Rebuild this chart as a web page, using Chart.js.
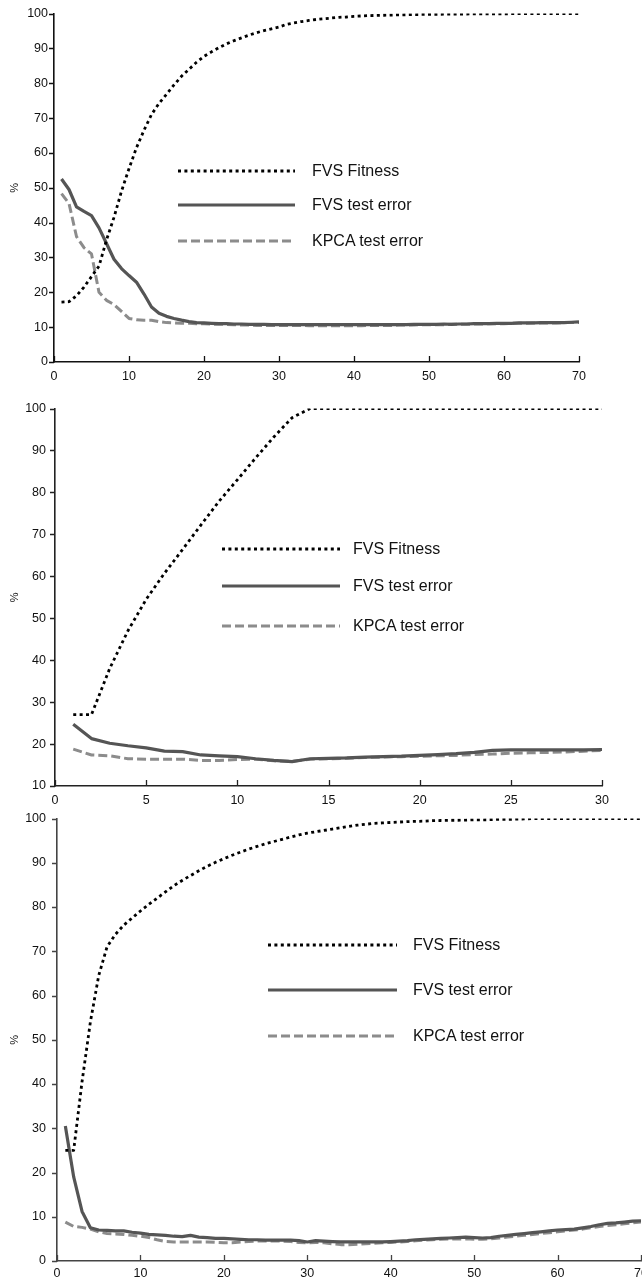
<!DOCTYPE html>
<html>
<head>
<meta charset="utf-8">
<script src="https://cdn.jsdelivr.net/npm/chart.js@4.4.0/dist/chart.umd.min.js"></script>
<style>
  html, body { margin: 0; padding: 0; background: #fff; }
  body { width: 642px; height: 1283px; position: relative; overflow: hidden; font-family: "Liberation Sans", Arial, sans-serif; }
  canvas { position: absolute; left: 0; }
  .legend-row { position: absolute; height: 20px; display: flex; align-items: center; white-space: nowrap; }
  .legend-row svg { display: block; }
  .legend-row span { font-size: 16px; color: #111; }
</style>
</head>
<body>
<canvas id="chartTop" width="642" height="392"></canvas>
<canvas id="chartMid" width="642" height="420"></canvas>
<canvas id="chartBottom" width="660" height="483"></canvas>
<script>
// panel 1 (70 generations)
const gen1 = [1,2,3,4,5,6,7,8,9,10,11,12,13,14,15,16,17,18,19,20,21,22,23,24,25,26,27,28,29,30,31,32,33,34,35,36,37,38,39,40,41,42,43,44,45,46,47,48,49,50,51,52,53,54,55,56,57,58,59,60,61,62,63,64,65,66,67,68,69,70];
const fitness1 = [17.2,17.3,19.0,21.5,24.5,27.5,35.0,41.5,49.0,55.5,61.5,66.5,71.0,74.2,76.8,79.5,82.0,84.0,86.0,87.7,89.0,90.2,91.3,92.2,93.0,93.8,94.5,95.1,95.6,96.1,96.9,97.3,97.7,98.0,98.3,98.5,98.7,98.9,99.0,99.2,99.3,99.4,99.45,99.5,99.55,99.6,99.65,99.7,99.72,99.75,99.78,99.8,99.82,99.84,99.86,99.88,99.9,99.91,99.92,99.93,99.94,99.95,99.96,99.97,99.98,99.98,99.99,100,100,100];
const fvsError1 = [52.5,49.5,44.5,43.2,42.0,38.5,34.0,29.5,26.8,24.8,22.9,19.5,15.8,14.0,13.1,12.5,12.0,11.6,11.3,11.2,11.1,11.0,11.0,10.9,10.9,10.8,10.8,10.8,10.7,10.7,10.7,10.7,10.7,10.7,10.7,10.7,10.7,10.7,10.7,10.7,10.7,10.7,10.7,10.7,10.7,10.7,10.7,10.8,10.8,10.8,10.8,10.9,10.8,10.9,10.9,11.0,11.0,11.0,11.1,11.1,11.1,11.2,11.2,11.2,11.3,11.3,11.3,11.3,11.4,11.5];
const kpcaError1 = [48.3,45.5,36.0,32.8,31.0,20.0,17.7,16.5,14.5,12.5,12.1,12.0,12.0,11.6,11.3,11.2,11.1,11.1,11.0,11.0,10.9,10.8,10.8,10.7,10.6,10.6,10.5,10.5,10.5,10.5,10.5,10.5,10.5,10.4,10.4,10.4,10.4,10.4,10.4,10.4,10.4,10.5,10.5,10.5,10.5,10.6,10.6,10.6,10.7,10.7,10.7,10.7,10.8,10.8,10.8,10.9,10.9,11.0,11.0,11.0,11.1,11.1,11.1,11.2,11.2,11.2,11.2,11.3,11.3,11.3];

// panel 2 (30 generations)
const gen2 = [1,2,3,4,5,6,7,8,9,10,11,12,13,14,15,16,17,18,19,20,21,22,23,24,25,26,27,28,29,30];
const fitness2 = [27.0,27.0,38.0,47.0,54.5,60.7,66.4,72.2,77.9,83.0,88.2,93.2,97.8,100,100,100,100,100,100,100,100,100,100,100,100,100,100,100,100,100];
const fvsError2 = [24.7,21.3,20.2,19.6,19.1,18.3,18.2,17.4,17.2,17.0,16.5,16.1,15.8,16.5,16.6,16.7,16.9,17.0,17.1,17.3,17.5,17.7,18.0,18.5,18.6,18.6,18.6,18.6,18.6,18.7];
const kpcaError2 = [18.8,17.4,17.2,16.5,16.4,16.4,16.4,16.1,16.1,16.3,16.4,16.0,15.9,16.4,16.5,16.6,16.8,16.9,17.0,17.1,17.2,17.3,17.5,17.6,17.8,17.9,18.0,18.1,18.3,18.5];

// panel 3 (70 generations)
const gen3 = [1,2,3,4,5,6,7,8,9,10,11,12,13,14,15,16,17,18,19,20,21,22,23,24,25,26,27,28,29,30,31,32,33,34,35,36,37,38,39,40,41,42,43,44,45,46,47,48,49,50,51,52,53,54,55,56,57,58,59,60,61,62,63,64,65,66,67,68,69,70];
const fitness3 = [25.0,25.0,40.5,54.0,64.5,71.0,73.8,75.9,77.5,79.1,80.6,82.0,83.4,84.8,86.0,87.1,88.2,89.2,90.1,90.9,91.7,92.4,93.1,93.7,94.3,94.8,95.3,95.8,96.3,96.7,97.0,97.3,97.6,97.9,98.2,98.5,98.7,98.9,99.0,99.1,99.2,99.3,99.35,99.4,99.5,99.55,99.6,99.6,99.65,99.7,99.7,99.75,99.8,99.8,99.85,99.9,100,100,100,100,100,100,100,100,100,100,100,100,100,100];
const fvsError3 = [30.5,19.0,11.2,7.5,7.0,6.9,6.8,6.8,6.5,6.3,6.0,5.9,5.8,5.6,5.5,5.8,5.4,5.3,5.1,5.1,5.0,4.9,4.8,4.8,4.7,4.7,4.7,4.7,4.6,4.3,4.6,4.5,4.4,4.3,4.3,4.3,4.3,4.3,4.3,4.4,4.5,4.6,4.8,4.9,5.0,5.1,5.2,5.3,5.4,5.3,5.2,5.3,5.6,5.8,6.0,6.2,6.4,6.6,6.8,7.0,7.1,7.2,7.5,7.8,8.2,8.5,8.6,8.8,9.0,9.1];
const kpcaError3 = [8.8,7.8,7.6,7.2,6.6,6.2,6.1,6.0,5.8,5.6,5.3,4.8,4.4,4.3,4.3,4.3,4.3,4.3,4.2,4.1,4.1,4.3,4.4,4.5,4.5,4.5,4.5,4.4,4.2,4.1,4.2,4.1,3.9,3.7,3.7,3.8,3.9,4.0,4.1,4.2,4.3,4.4,4.6,4.7,4.8,4.9,5.0,5.0,5.0,4.9,4.9,5.0,5.2,5.4,5.6,5.8,6.0,6.2,6.4,6.6,6.8,7.0,7.2,7.5,7.8,8.0,8.2,8.4,8.6,8.8];

const seriesNames = ["FVS Fitness", "FVS test error", "KPCA test error"];

const lineStyles = [
  { color: "#000000", width: 2.8, dash: [3, 3.4] },
  { color: "#555555", width: 3.2, dash: [] },
  { color: "#8c8c8c", width: 3, dash: [9, 4] }
];

const tickFont = { family: "'Liberation Sans', Arial, sans-serif", size: 12.5 };

// short tick marks: x ticks point up into the plot, y ticks point left
const tickMarks = {
  id: "tickMarks",
  afterDraw(chart) {
    const { ctx, scales: { x, y } } = chart;
    const color = chart.options.scales.x.border.color;
    ctx.save();
    ctx.strokeStyle = color;
    ctx.lineWidth = 1.3;
    ctx.beginPath();
    x.ticks.forEach((t) => {
      const px = Math.round(x.getPixelForValue(t.value)) + 0.5;
      ctx.moveTo(px, x.top);
      ctx.lineTo(px, x.top - 6);
    });
    y.ticks.forEach((t) => {
      const py = Math.round(y.getPixelForValue(t.value)) + 0.5;
      ctx.moveTo(y.right, py);
      ctx.lineTo(y.right - 5, py);
    });
    ctx.stroke();
    ctx.restore();
  }
};

function toPoints(xs, ys) {
  return xs.map((x, i) => ({ x, y: ys[i] }));
}

function makeDataset(label, xs, ys, style) {
  return {
    label,
    data: toPoints(xs, ys),
    borderColor: style.color,
    borderWidth: style.width,
    borderDash: style.dash,
    borderCapStyle: "butt",
    borderJoinStyle: "round",
    pointRadius: 0,
    fill: false,
    tension: 0
  };
}

function buildPanel(panel) {
  const canvas = document.getElementById(panel.id);
  canvas.style.top = panel.top + "px";

  return new Chart(canvas, {
    type: "line",
    data: {
      datasets: panel.series.map((ys, i) => makeDataset(seriesNames[i], panel.gen, ys, lineStyles[i]))
    },
    options: {
      responsive: false,
      animation: false,
      devicePixelRatio: 1,
      layout: { padding: { top: panel.padTop, right: panel.padRight, left: 0, bottom: 0 } },
      plugins: { legend: { display: false }, tooltip: { enabled: false } },
      scales: {
        x: {
          type: "linear",
          min: panel.xMin,
          max: panel.xMax,
          grid: { display: false, drawTicks: false },
          border: { color: panel.axisColor, width: 1.6 },
          ticks: { stepSize: panel.xStep, padding: panel.xPad, color: "#111", font: tickFont, maxRotation: 0, autoSkip: false },
          afterFit: (s) => { s.height = panel.xHeight; }
        },
        y: {
          type: "linear",
          min: panel.yMin,
          max: 100,
          grid: { display: false, drawTicks: false },
          border: { color: panel.axisColor, width: 1.6 },
          ticks: { stepSize: 10, padding: panel.yPad, color: "#111", font: tickFont },
          title: { display: true, text: "%", color: "#111", font: { family: "'Liberation Sans', Arial, sans-serif", size: 11 }, padding: { top: 8, bottom: 0 } },
          afterFit: (s) => { s.width = panel.yWidth; }
        }
      }
    },
    plugins: [tickMarks]
  });
}

function buildLegend(box) {
  box.rowY.forEach((y, i) => {
    const style = lineStyles[i];
    const row = document.createElement("div");
    row.className = "legend-row";
    row.style.left = box.lineLeft + "px";
    row.style.top = (y - 10) + "px";
    const w = box.lineRight - box.lineLeft;
    const ns = "http://www.w3.org/2000/svg";
    const svg = document.createElementNS(ns, "svg");
    svg.setAttribute("width", w);
    svg.setAttribute("height", 20);
    const line = document.createElementNS(ns, "line");
    line.setAttribute("x1", 0);
    line.setAttribute("x2", w);
    line.setAttribute("y1", 10);
    line.setAttribute("y2", 10);
    line.setAttribute("stroke", style.color);
    line.setAttribute("stroke-width", style.width);
    if (style.dash.length) line.setAttribute("stroke-dasharray", style.dash.join(" "));
    svg.appendChild(line);
    const text = document.createElement("span");
    text.textContent = seriesNames[i];
    text.style.marginLeft = (box.textLeft - box.lineRight) + "px";
    row.appendChild(svg);
    row.appendChild(text);
    document.body.appendChild(row);
  });
}

buildPanel({
  id: "chartTop", top: 0, padTop: 12, padRight: 63, xHeight: 30, yWidth: 54,
  xMin: 0, xMax: 70, xStep: 10, yMin: 0, xPad: 7, yPad: 6, axisColor: "#111",
  gen: gen1, series: [fitness1, fvsError1, kpcaError1]
});
buildPanel({
  id: "chartMid", top: 392, padTop: 12, padRight: 40, xHeight: 26, yWidth: 55,
  xMin: 0, xMax: 30, xStep: 5, yMin: 10, xPad: 7, yPad: 9, axisColor: "#222",
  gen: gen2, series: [fitness2, fvsError2, kpcaError2]
});
buildPanel({
  id: "chartBottom", top: 800, padTop: 15, padRight: 19, xHeight: 22, yWidth: 57,
  xMin: 0, xMax: 70, xStep: 10, yMin: 0, xPad: 5, yPad: 11, axisColor: "#444",
  gen: gen3, series: [fitness3, fvsError3, kpcaError3]
});

buildLegend({ lineLeft: 178, lineRight: 295, textLeft: 312, rowY: [171, 205, 241] });
buildLegend({ lineLeft: 222, lineRight: 340, textLeft: 353, rowY: [549, 586, 626] });
buildLegend({ lineLeft: 268, lineRight: 397, textLeft: 413, rowY: [945, 990, 1036] });
</script>
</body>
</html>
